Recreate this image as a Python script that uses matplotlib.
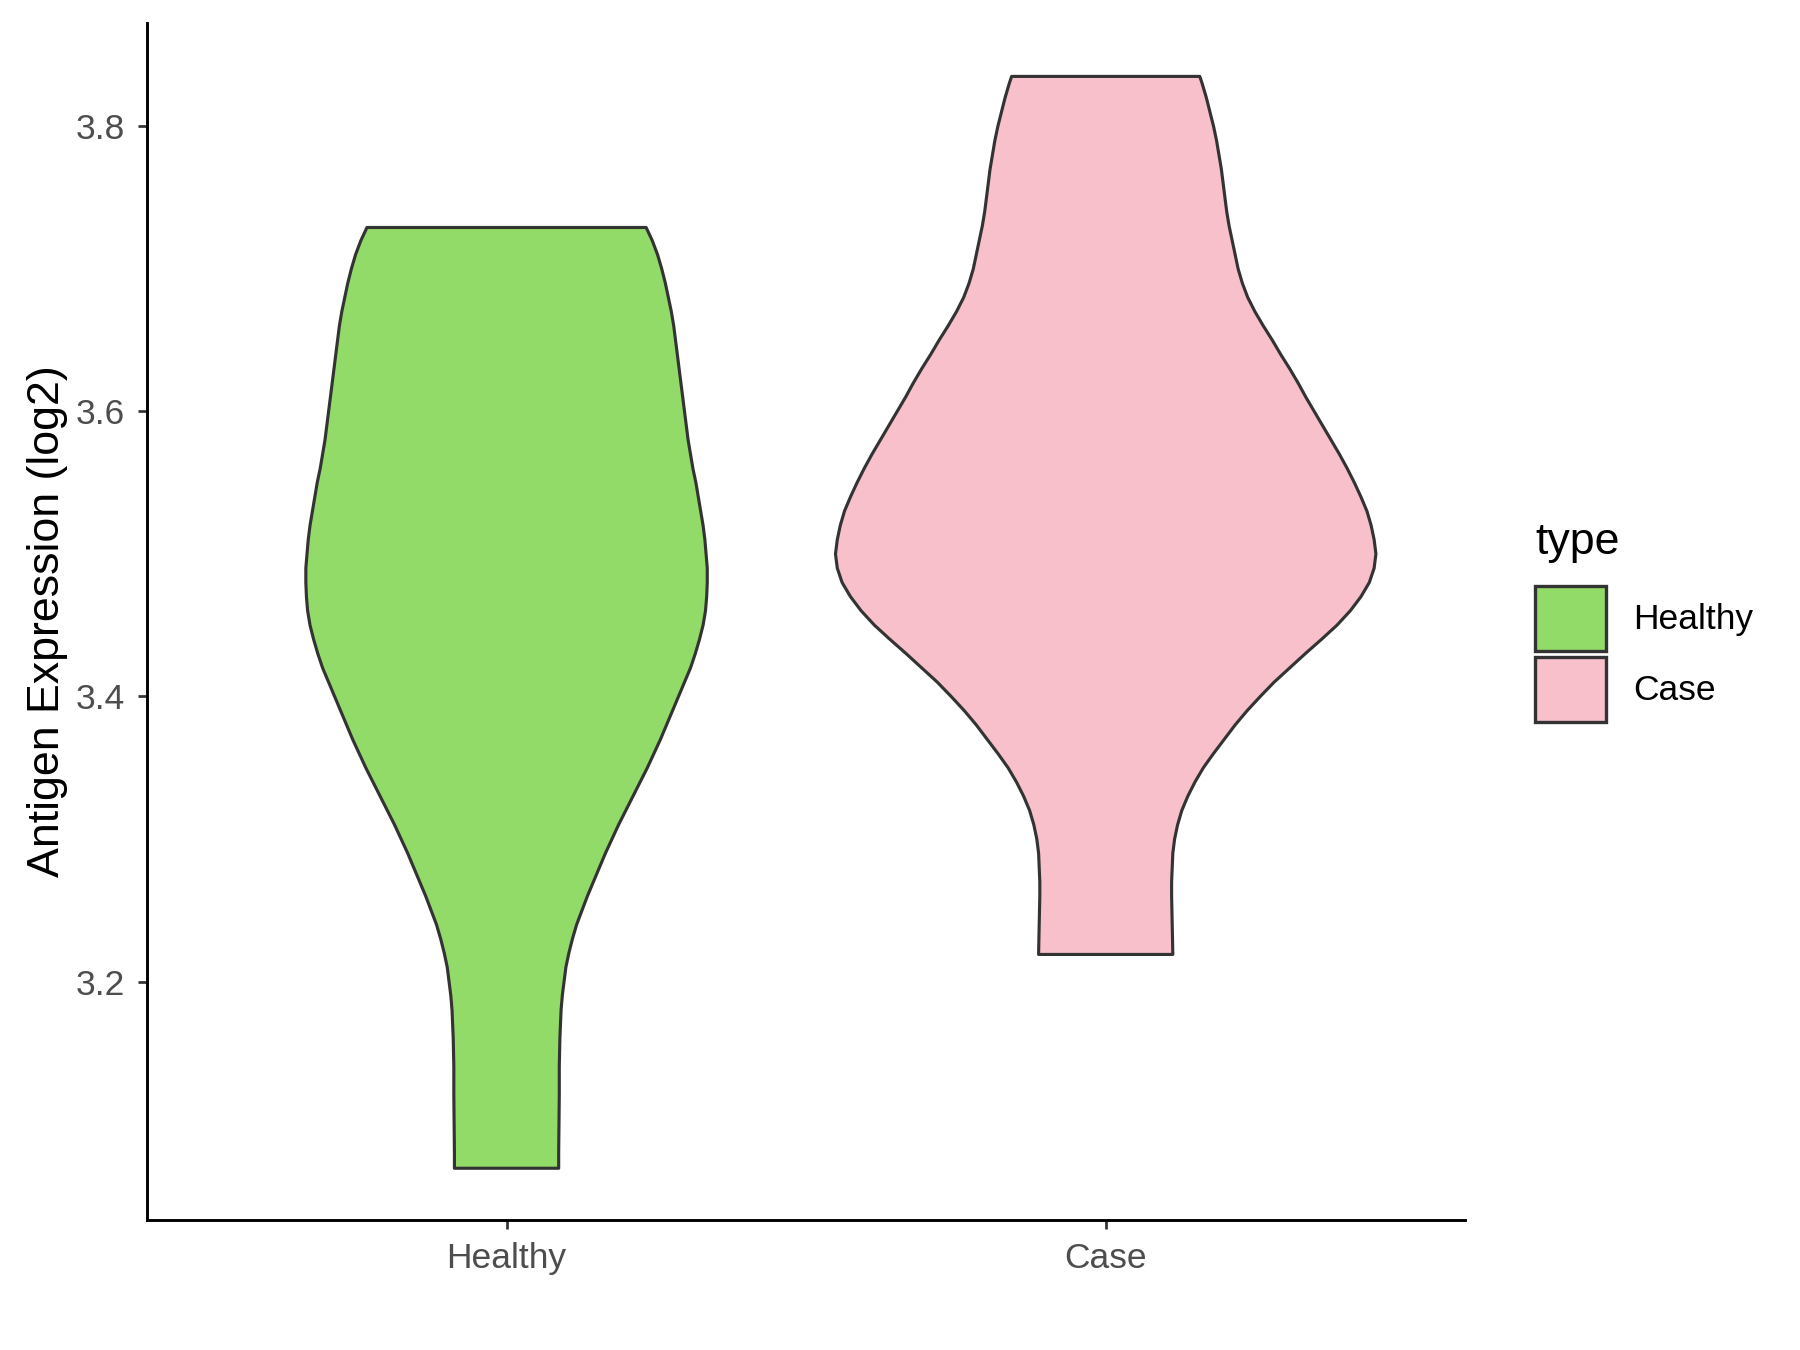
import numpy as np
import matplotlib
matplotlib.use("Agg")
import matplotlib.pyplot as plt
from matplotlib.patches import Patch

plt.rcParams["font.family"] = ["Liberation Sans", "DejaVu Sans"]

# -------- DATA (violin outlines: y level, half width) --------
groups = ["Healthy", "Case"]
colors = ["#93DB69", "#F7C0CB"]

healthy_y = [3.729, 3.72, 3.71, 3.70, 3.69, 3.68, 3.67, 3.66, 3.65, 3.64,
             3.63, 3.62, 3.61, 3.60, 3.59, 3.58, 3.57, 3.56, 3.55, 3.54,
             3.53, 3.52, 3.51, 3.50, 3.49, 3.48, 3.47, 3.46, 3.45, 3.44,
             3.43, 3.42, 3.41, 3.40, 3.39, 3.38, 3.37, 3.36, 3.35, 3.34,
             3.33, 3.32, 3.31, 3.30, 3.29, 3.28, 3.27, 3.26, 3.25, 3.24,
             3.23, 3.22, 3.21, 3.20, 3.19, 3.18, 3.17, 3.16, 3.14, 3.12,
             3.10, 3.08, 3.069]
healthy_w = [0.233, 0.243, 0.252, 0.259, 0.265, 0.270, 0.275, 0.279, 0.282, 0.285,
             0.288, 0.291, 0.294, 0.297, 0.300, 0.303, 0.307, 0.311, 0.316, 0.320,
             0.324, 0.328, 0.331, 0.333, 0.335, 0.335, 0.334, 0.332, 0.328, 0.322,
             0.315, 0.307, 0.297, 0.287, 0.277, 0.267, 0.257, 0.246, 0.235, 0.223,
             0.211, 0.199, 0.187, 0.176, 0.165, 0.155, 0.145, 0.135, 0.126, 0.117,
             0.110, 0.104, 0.099, 0.096, 0.093, 0.091, 0.090, 0.089, 0.088, 0.088,
             0.0875, 0.087, 0.087]

case_y = [3.835, 3.83, 3.82, 3.81, 3.80, 3.79, 3.78, 3.77, 3.76, 3.75,
          3.74, 3.73, 3.72, 3.71, 3.70, 3.69, 3.68, 3.67, 3.66, 3.65,
          3.64, 3.63, 3.62, 3.61, 3.60, 3.59, 3.58, 3.57, 3.56, 3.55,
          3.54, 3.53, 3.52, 3.51, 3.50, 3.49, 3.48, 3.47, 3.46, 3.45,
          3.44, 3.43, 3.42, 3.41, 3.40, 3.39, 3.38, 3.37, 3.36, 3.35,
          3.34, 3.33, 3.32, 3.31, 3.30, 3.29, 3.28, 3.27, 3.26, 3.25,
          3.24, 3.23, 3.219]
case_w = [0.157, 0.161, 0.168, 0.174, 0.180, 0.185, 0.189, 0.193, 0.196, 0.199,
          0.202, 0.206, 0.211, 0.216, 0.221, 0.228, 0.237, 0.249, 0.263, 0.278,
          0.292, 0.307, 0.321, 0.334, 0.348, 0.362, 0.376, 0.390, 0.403, 0.415,
          0.426, 0.436, 0.443, 0.448, 0.451, 0.448, 0.440, 0.426, 0.408, 0.386,
          0.360, 0.333, 0.307, 0.281, 0.258, 0.236, 0.216, 0.198, 0.180, 0.163,
          0.149, 0.137, 0.127, 0.120, 0.115, 0.112, 0.111, 0.110, 0.110, 0.1105,
          0.111, 0.1115, 0.112]

outlines = [(healthy_y, healthy_w), (case_y, case_w)]

yticks = [3.2, 3.4, 3.6, 3.8]

# -------- PLOT --------
fig = plt.figure(figsize=(12, 9), dpi=150)
ax = fig.add_axes([0.0817, 0.0963, 0.7323, 0.8867])

for i, (ys, ws) in enumerate(outlines):
    pos = i + 1
    ys = np.array(ys)
    ws = np.array(ws)
    xs = np.concatenate([pos - ws, (pos + ws)[::-1]])
    yy = np.concatenate([ys, ys[::-1]])
    ax.fill(xs, yy, facecolor=colors[i], edgecolor="#333333",
            linewidth=1.5, joinstyle="round", zorder=2)

ax.set_xlim(0.4, 2.6)
ax.set_ylim(3.0327, 3.8725)
ax.set_xticks([1, 2])
ax.set_xticklabels(groups)
ax.set_yticks(yticks)
ax.set_yticklabels([f"{v:.1f}" for v in yticks])

for s in ["top", "right"]:
    ax.spines[s].set_visible(False)
for s in ["left", "bottom"]:
    ax.spines[s].set_linewidth(1.4)
    ax.spines[s].set_color("black")

ax.tick_params(axis="both", length=4.5, width=1.3, color="#333333",
               labelsize=17, labelcolor="#4D4D4D", pad=6)
ax.set_ylabel("Antigen Expression (log2)", fontsize=21.5, labelpad=4)

handles = [Patch(facecolor=c, edgecolor="#333333", linewidth=1.6, label=g)
           for g, c in zip(groups, colors)]
leg = fig.legend(handles=handles, title="type", loc="upper left",
                 bbox_to_anchor=(0.853, 0.6135), frameon=False,
                 fontsize=17, title_fontsize=21.5, handlelength=2.0,
                 handleheight=2.46, labelspacing=0.16, handletextpad=0.75,
                 borderpad=0, borderaxespad=0)
leg._legend_box.align = "left"
leg._legend_box.sep = 11

fig.savefig("out.png", dpi=150)
